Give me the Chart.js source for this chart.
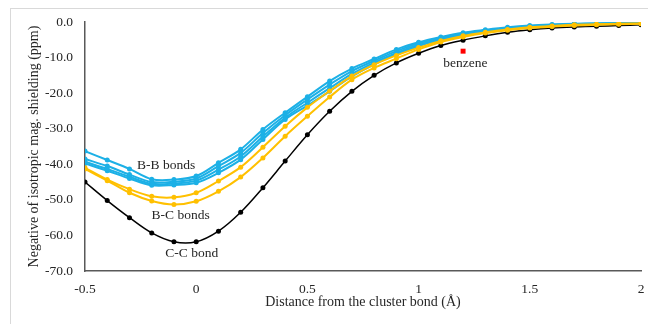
<!DOCTYPE html>
<html>
<head>
<meta charset="utf-8">
<script src="https://cdn.jsdelivr.net/npm/chart.js@4.4.0/dist/chart.umd.min.js"></script>
<style>
  html, body { margin: 0; padding: 0; background: #ffffff; }
  #wrap { position: relative; width: 648px; height: 324px; overflow: hidden; }
  #frame { position: absolute; left: 10px; top: 8px; width: 650px; height: 330px; border: 1px solid #d9d9d9; box-sizing: border-box; }
  #chart { position: absolute; left: 0; top: 0; }
</style>
</head>
<body>
<div id="wrap">
  <div id="frame"></div>
  <canvas id="chart" width="648" height="324"></canvas>
</div>
<script>
// distance from the cluster bond (Å)
var distances = [-0.5, -0.4, -0.3, -0.2, -0.1, 0, 0.1, 0.2, 0.3, 0.4, 0.5, 0.6, 0.7, 0.8, 0.9, 1.0, 1.1, 1.2, 1.3, 1.4, 1.5, 1.6, 1.7, 1.8, 1.9, 2.0];

// B-B bonds (blue)
var bb1 = [-36.3, -38.8, -41.3, -44.2, -44.3, -43.3, -39.6, -35.8, -30.2, -25.5, -21.0, -16.6, -13.1, -10.4, -7.7, -5.7, -4.2, -3.0, -2.2, -1.5, -1.0, -0.7, -0.5, -0.4, -0.3, -0.2];
var bb2 = [-38.5, -40.5, -42.9, -45.0, -44.9, -44.0, -40.5, -36.8, -31.2, -26.2, -21.8, -17.6, -13.8, -10.9, -8.2, -6.0, -4.5, -3.2, -2.4, -1.7, -1.2, -0.8, -0.6, -0.4, -0.3, -0.2];
var bb3 = [-39.3, -41.3, -43.5, -45.5, -45.4, -44.6, -41.5, -37.8, -32.2, -26.9, -22.7, -18.6, -14.6, -11.4, -8.7, -6.4, -4.8, -3.5, -2.6, -1.9, -1.4, -1.0, -0.7, -0.5, -0.4, -0.3];
var bb4 = [-39.8, -41.8, -44.0, -45.9, -45.8, -45.2, -42.4, -38.7, -33.0, -27.4, -23.5, -19.5, -15.3, -11.9, -9.1, -6.8, -5.1, -3.8, -2.8, -2.1, -1.5, -1.1, -0.8, -0.6, -0.5, -0.4];

// B-C bonds (yellow)
var bc1 = [-41.0, -44.3, -47.0, -49.0, -49.3, -48.0, -44.7, -40.8, -35.2, -29.3, -24.0, -19.4, -15.2, -12.0, -9.4, -7.2, -5.3, -3.9, -2.9, -2.1, -1.5, -1.1, -0.8, -0.6, -0.5, -0.4];
var bc2 = [-41.3, -44.6, -48.0, -50.3, -51.3, -50.4, -47.6, -43.6, -38.2, -32.1, -26.5, -21.1, -16.2, -12.9, -10.3, -7.7, -5.6, -4.2, -3.1, -2.3, -1.7, -1.3, -1.0, -0.8, -0.6, -0.5];

// C-C bond (black)
var cc = [-45.0, -50.2, -55.0, -59.3, -61.8, -61.8, -58.8, -53.5, -46.6, -39.1, -31.7, -25.1, -19.5, -15.0, -11.5, -8.8, -6.6, -5.1, -3.9, -2.9, -2.2, -1.7, -1.4, -1.2, -1.0, -0.8];

// benzene reference point
var benzeneX = [1.2];
var benzeneY = [-8.2];

// text labels on the plot
var noteTexts = ["B-B bonds", "B-C bonds", "C-C bond", "benzene"];
var noteX = [-0.135, -0.07, -0.02, 1.21];
var noteY = [-40.3, -54.4, -65.1, -11.7];

var BLUE = "#1cb0e6";
var YELLOW = "#ffc000";
var FONT = "'Liberation Serif', 'Times New Roman', serif";

function toPoints(xs, ys) {
    var out = [];
    for (var i = 0; i < xs.length; i++) out.push({ x: xs[i], y: ys[i] });
    return out;
}

function lineSet(values, color, width, radius) {
    return {
        data: toPoints(distances, values),
        borderColor: color,
        backgroundColor: color,
        borderWidth: width,
        pointRadius: radius,
        pointBorderWidth: 0,
        tension: 0.35,
        fill: false
    };
}

var notesPlugin = {
    id: "notes",
    afterDatasetsDraw: function(chart) {
        var ctx = chart.ctx;
        var sx = chart.scales.x, sy = chart.scales.y;
        ctx.save();
        ctx.font = "13.5px " + FONT;
        ctx.fillStyle = "#262626";
        ctx.textAlign = "center";
        ctx.textBaseline = "middle";
        for (var i = 0; i < noteTexts.length; i++) {
            ctx.fillText(noteTexts[i], sx.getPixelForValue(noteX[i]), sy.getPixelForValue(noteY[i]));
        }
        ctx.restore();
    }
};

new Chart(document.getElementById("chart"), {
    type: "line",
    data: {
        datasets: [
            lineSet(bc1, YELLOW, 2, 2.5),
            lineSet(bc2, YELLOW, 2, 2.5),
            lineSet(bb4, BLUE, 2, 2.5),
            lineSet(bb3, BLUE, 2, 2.5),
            lineSet(bb2, BLUE, 2, 2.5),
            lineSet(bb1, BLUE, 2, 2.5),
            lineSet(cc, "#000000", 1.5, 2.5),
            {
                data: toPoints(benzeneX, benzeneY),
                showLine: false,
                pointStyle: "rect",
                pointRadius: 3.5,
                pointBorderWidth: 0,
                backgroundColor: "#ff0000",
                borderColor: "#ff0000"
            }
        ]
    },
    options: {
        responsive: false,
        animation: false,
        layout: { padding: { top: 22, right: 7, left: 26, bottom: 0 } },
        plugins: {
            legend: { display: false },
            tooltip: { enabled: false }
        },
        scales: {
            x: {
                type: "linear",
                min: -0.5,
                max: 2,
                grid: { display: false, drawTicks: false },
                border: { color: "#595959", width: 1.5 },
                ticks: {
                    stepSize: 0.5,
                    padding: 10,
                    color: "#262626",
                    font: { family: FONT, size: 13.5 },
                    maxRotation: 0,
                    callback: function(v) { return String(Math.round(v * 10) / 10); }
                },
                title: {
                    display: true,
                    text: "Distance from the cluster bond (Å)",
                    color: "#262626",
                    font: { family: FONT, size: 14 },
                    padding: { top: 2, bottom: 13 }
                },
                afterFit: function(s) { s.height = 53; s.paddingRight = 0; }
            },
            y: {
                min: -70,
                max: 0,
                grid: { display: false, drawTicks: false },
                border: { color: "#595959", width: 1.5 },
                ticks: {
                    stepSize: 10,
                    padding: 12,
                    color: "#262626",
                    font: { family: FONT, size: 13.5 },
                    callback: function(v) { return v.toFixed(1); }
                },
                title: {
                    display: true,
                    text: "Negative of isotropic mag. shielding (ppm)",
                    color: "#262626",
                    font: { family: FONT, size: 14 },
                    padding: { top: 0, bottom: 4 }
                },
                afterFit: function(s) { s.width = 59; }
            }
        }
    },
    plugins: [notesPlugin]
});
</script>
</body>
</html>
